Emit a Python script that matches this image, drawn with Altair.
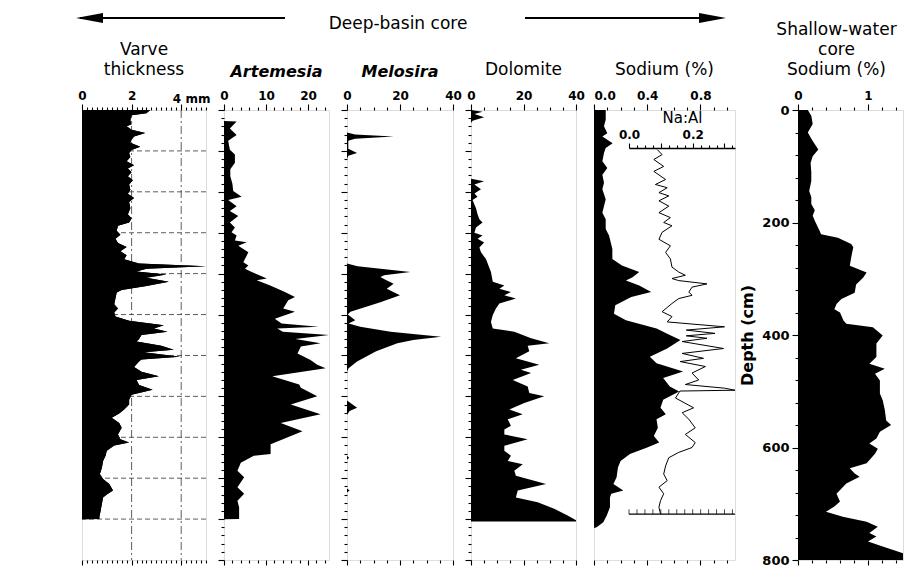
import altair as alt
import pandas as pd

FONT = "DejaVu Sans"

# ---------------- data ----------------
VARVE_KY = [0.0, 0.08, 0.13, 0.25, 0.35, 0.40, 0.48, 0.56, 0.65, 0.73, 0.80, 0.90, 0.98, 1.05, 1.15, 1.25,
            1.35, 1.43, 1.52, 1.62, 1.72, 1.82, 1.95, 2.05, 2.15, 2.25, 2.40, 2.55, 2.65, 2.75, 2.83, 2.95,
            3.05, 3.15, 3.25, 3.35, 3.45, 3.55, 3.65, 3.75, 3.82, 3.88, 3.95, 4.02, 4.10, 4.20, 4.30, 4.40,
            4.46, 4.60, 4.75, 4.85, 4.95, 5.05, 5.15, 5.26, 5.34, 5.42, 5.50, 5.60, 5.66, 5.76, 5.86, 5.92,
            6.03, 6.10, 6.15, 6.28, 6.40, 6.51, 6.60, 6.72, 6.84, 6.96, 7.08, 7.20, 7.32, 7.42, 7.52, 7.65,
            7.77, 7.93, 8.05, 8.13, 8.20, 8.33, 8.45, 8.58, 8.75, 8.90, 9.02, 9.14, 9.30, 9.40, 9.47, 9.63,
            9.80, 9.95, 10.0, 10.001]
VARVE_MM = [2.75, 2.6, 2.0, 1.95, 2.0, 1.8, 2.0, 2.55, 2.1, 2.0, 1.95, 2.35, 2.0, 1.9, 1.95, 1.8,
            2.1, 1.85, 2.0, 1.85, 2.05, 1.9, 1.95, 1.85, 2.1, 1.9, 1.95, 1.85, 2.0, 1.9, 1.45, 1.4,
            1.55, 1.35, 1.45, 1.8, 1.55, 1.8, 1.7, 2.3, 5.0, 2.6, 2.2, 3.4, 2.6, 3.5, 2.6, 1.6,
            1.4, 1.35, 1.3, 1.45, 1.3, 1.35, 1.9, 3.3, 2.9, 3.45, 2.4, 2.3, 2.2, 3.2, 3.7, 2.5,
            3.95, 2.4, 2.3, 2.1, 2.4, 3.1, 2.2, 2.3, 2.85, 2.0, 1.9, 1.9, 1.7, 1.5, 1.2, 1.5,
            1.6, 1.45, 1.55, 1.9, 1.3, 1.0, 0.95, 0.85, 0.8, 0.72, 0.85, 1.1, 1.25, 1.0, 0.85, 0.8,
            0.75, 0.7, 0.7, 0.0]
VARVE_GRID_KY = [1, 2, 3, 4, 5, 6, 7, 8, 9, 10]
VARVE_GRID_MM = [2, 4]

ART_KY = [0.27, 0.28, 0.45, 0.61, 0.75, 0.97, 1.09, 1.29, 1.45, 1.62, 1.80, 1.98, 2.12, 2.20, 2.35, 2.47,
          2.59, 2.75, 2.87, 2.99, 3.07, 3.19, 3.23, 3.32, 3.48, 3.72, 3.80, 3.88, 3.96, 4.12, 4.16, 4.29,
          4.45, 4.57, 4.65, 4.85, 4.93, 5.10, 5.22, 5.30, 5.34, 5.42, 5.50, 5.60, 5.70, 5.78, 5.95, 6.11,
          6.23, 6.31, 6.51, 6.71, 6.79, 7.00, 7.20, 7.44, 7.65, 7.85, 8.17, 8.41, 8.45, 8.62, 8.82, 8.98,
          9.22, 9.38, 9.55, 9.71, 9.95, 10.0, 10.001]
ART_VAL = [0.0, 3.0, 1.4, 3.0, 1.0, 1.4, 2.6, 2.6, 1.5, 1.5, 2.0, 2.2, 4.2, 1.0, 3.0, 1.4,
           3.4, 1.4, 2.6, 1.8, 3.0, 2.6, 5.4, 3.4, 5.8, 4.6, 5.8, 5.0, 6.6, 10.2, 7.8, 11.0,
           14.5, 16.9, 15.3, 14.1, 16.9, 12.1, 13.7, 22.5, 12.7, 14.0, 25.0, 17.0, 23.0, 18.3, 17.5, 20.6,
           22.2, 24.2, 11.5, 17.9, 18.3, 22.2, 15.9, 23.0, 13.5, 18.7, 11.1, 11.1, 7.1, 4.0, 3.2, 4.8,
           3.2, 4.8, 3.2, 3.6, 3.6, 3.6, 0.0]

MEL_KY = [0.0, 0.55, 0.60, 0.65, 0.70, 0.75, 0.95, 1.05, 1.12, 1.20, 3.75, 3.82, 3.96, 4.04, 4.08, 4.15,
          4.25, 4.37, 4.53, 4.70, 4.93, 5.00, 5.14, 5.22, 5.30, 5.42, 5.54, 5.62, 5.70, 5.90, 6.15, 6.31,
          6.40, 7.10, 7.28, 7.36, 7.45, 8.45, 8.50, 8.55, 9.25, 9.30, 9.35, 10.0]
MEL_VAL = [0.0, 0.0, 3.0, 17.6, 3.0, 0.5, 0.5, 3.8, 0.5, 0.0, 0.0, 4.0, 23.9, 14.0, 12.6, 14.5,
           17.6, 15.0, 20.0, 12.6, 1.3, 0.3, 3.1, 0.6, 5.0, 16.4, 35.5, 25.0, 19.0, 11.0, 3.8, 0.6,
           0.0, 0.0, 3.8, 1.0, 0.0, 0.0, 0.8, 0.0, 0.0, 1.0, 0.0, 0.0]

DOL_KY = [0.0, 0.04, 0.10, 0.18, 0.26, 0.32, 1.68, 1.74, 1.82, 1.94, 2.04, 2.12, 2.20, 2.40, 2.55, 2.67,
          2.75, 2.87, 3.00, 3.07, 3.15, 3.24, 3.36, 3.48, 3.64, 3.96, 4.20, 4.29, 4.37, 4.45, 4.53, 4.61,
          4.73, 4.85, 5.01, 5.18, 5.34, 5.42, 5.50, 5.58, 5.70, 5.76, 5.90, 6.07, 6.23, 6.35, 6.43, 6.60,
          6.76, 6.92, 7.00, 7.16, 7.32, 7.44, 7.56, 7.72, 7.81, 7.93, 8.05, 8.21, 8.33, 8.45, 8.58, 8.66,
          8.82, 8.94, 9.14, 9.30, 9.47, 9.59, 9.75, 9.91, 10.03, 10.06, 10.061]
DOL_VAL = [0.0, 4.4, 1.3, 5.0, 0.6, 0.0, 0.0, 5.0, 1.3, 3.8, 1.3, 2.5, 0.6, 1.9, 2.5, 3.2,
           4.4, 1.9, 1.3, 4.4, 2.5, 5.0, 3.2, 3.8, 5.7, 7.6, 8.3, 12.7, 10.8, 15.2, 12.7, 17.1,
           10.8, 9.5, 8.3, 7.6, 8.3, 16.5, 19.7, 22.9, 29.8, 21.6, 22.2, 17.1, 26.0, 19.0, 22.9, 15.9,
           21.6, 22.2, 27.9, 20.3, 14.6, 19.7, 14.0, 15.2, 12.7, 12.7, 21.6, 12.7, 12.7, 15.2, 14.0, 19.7,
           16.5, 17.1, 28.6, 17.8, 17.1, 25.4, 31.7, 36.8, 40.0, 40.0, 0.0]

NA_KY = [0.0, 0.24, 0.40, 0.57, 0.65, 0.81, 0.93, 1.05, 1.25, 1.42, 1.58, 1.78, 1.94, 2.18, 2.51, 2.67,
         2.91, 3.07, 3.24, 3.40, 3.64, 3.80, 3.96, 4.09, 4.17, 4.29, 4.45, 4.57, 4.77, 4.98, 5.14, 5.34,
         5.50, 5.62, 5.83, 6.03, 6.19, 6.39, 6.55, 6.76, 6.88, 7.08, 7.28, 7.44, 7.56, 7.77, 7.97, 8.13,
         8.25, 8.41, 8.58, 8.74, 8.98, 9.14, 9.30, 9.38, 9.47, 9.71, 9.91, 10.08, 10.20, 10.22]
NA_PCT = [0.088, 0.088, 0.075, 0.10, 0.063, 0.14, 0.088, 0.075, 0.063, 0.10, 0.063, 0.075, 0.063, 0.088, 0.063, 0.088,
          0.088, 0.113, 0.126, 0.138, 0.138, 0.21, 0.34, 0.29, 0.24, 0.34, 0.43, 0.28, 0.16, 0.15, 0.24, 0.47,
          0.57, 0.65, 0.55, 0.42, 0.47, 0.67, 0.52, 0.57, 0.64, 0.52, 0.50, 0.54, 0.47, 0.48, 0.45, 0.49,
          0.40, 0.27, 0.20, 0.18, 0.17, 0.146, 0.22, 0.13, 0.12, 0.12, 0.096, 0.07, 0.02, 0.0]

NAAL_KY = [0.97, 1.09, 1.21, 1.38, 1.50, 1.70, 1.82, 1.90, 2.02, 2.10, 2.22, 2.35, 2.51, 2.63, 2.75, 2.83,
           2.99, 3.16, 3.32, 3.48, 3.64, 3.84, 3.96, 4.04, 4.12, 4.17, 4.25, 4.33, 4.45, 4.53, 4.61, 4.73,
           4.93, 5.05, 5.18, 5.30, 5.38, 5.46, 5.52, 5.58, 5.66, 5.83, 5.95, 6.07, 6.15, 6.27, 6.43, 6.60,
           6.71, 6.80, 6.85, 6.87, 7.04, 7.28, 7.40, 7.56, 7.77, 7.93, 8.13, 8.25, 8.37, 8.50, 8.70, 8.90,
           9.06, 9.22, 9.38, 9.55, 9.71, 9.87]
NAAL_R = [0.089, 0.104, 0.078, 0.109, 0.078, 0.115, 0.083, 0.120, 0.094, 0.125, 0.094, 0.125, 0.094, 0.130, 0.109, 0.135,
          0.104, 0.094, 0.130, 0.115, 0.130, 0.135, 0.156, 0.177, 0.135, 0.156, 0.245, 0.198, 0.188, 0.198, 0.156, 0.135,
          0.104, 0.135, 0.120, 0.300, 0.180, 0.270, 0.180, 0.245, 0.167, 0.297, 0.167, 0.234, 0.161, 0.240, 0.198, 0.219,
          0.177, 0.300, 0.333, 0.160, 0.146, 0.203, 0.167, 0.188, 0.208, 0.177, 0.208, 0.198, 0.156, 0.125, 0.115, 0.109,
          0.120, 0.094, 0.109, 0.099, 0.094, 0.099]
NAAL_FRAME_LO = [0.0]
NAAL_FRAME_HI = [0.333]
NAAL_FRAME_KY = [9.88]

SH_DEPTH = [0, 10, 25, 40, 55, 70, 82, 94, 110, 126, 144, 155, 167, 178, 188, 197,
            215, 221, 227, 238, 244, 262, 277, 289, 298, 310, 325, 336, 345, 354, 360, 374,
            380, 386, 401, 415, 439, 451, 460, 469, 481, 504, 516, 533, 552, 560, 572, 584,
            593, 602, 611, 628, 637, 646, 652, 664, 682, 696, 705, 714, 723, 732, 741, 752,
            758, 767, 776, 788, 800]
SH_PCT = [0.14, 0.19, 0.21, 0.14, 0.21, 0.29, 0.21, 0.18, 0.19, 0.19, 0.16, 0.19, 0.19, 0.24, 0.21, 0.24,
          0.31, 0.33, 0.57, 0.76, 0.79, 0.76, 0.74, 0.98, 0.93, 0.83, 0.81, 0.62, 0.55, 0.52, 0.60, 0.65,
          0.69, 1.07, 1.21, 1.12, 1.12, 1.02, 1.24, 1.10, 1.17, 1.17, 1.21, 1.24, 1.26, 1.33, 1.17, 1.12,
          1.02, 1.14, 1.10, 0.98, 0.74, 0.81, 0.88, 0.69, 0.55, 0.60, 0.52, 0.40, 0.64, 0.98, 1.14, 1.02,
          1.12, 1.00, 1.21, 1.50, 1.50]

# ---------------- helpers ----------------
H = 450


def frange(start, stop, step, nd=3):
    n = int(round((stop - start) / step))
    return [round(start + i * step, nd) for i in range(n + 1)]


def mult(step):
    return f"abs(datum.value/{step} - round(datum.value/{step})) < 0.001"


def top_axis(values, major_step, fmt, label_expr=None, **kw):
    test = mult(major_step)
    opts = dict(labelFlush=False)
    opts.update(kw)
    return alt.Axis(orient="top", values=values, title=None, format=fmt,
                    labelExpr=label_expr or f"{test} ? datum.label : ''",
                    tickSize={"expr": f"{test} ? 6 : 3"},
                    domain=False, grid=False, labelFont=FONT, labelFontSize=12,
                    labelFontWeight="bold", labelColor="black", tickColor="black",
                    tickWidth=1.1, labelPadding=2, labelOverlap=False, **opts)


def bottom_axis(values, major_step):
    test = mult(major_step)
    return alt.Axis(orient="bottom", values=values, title=None, labels=False,
                    tickSize={"expr": f"{test} ? 5 : 3"}, domain=False, grid=False,
                    tickColor="black", tickWidth=1.1)


KY_TICKS = frange(0, 11, 0.2, 1)


def deep_yaxis(first=False):
    common = dict(values=KY_TICKS, orient="left", domain=False, grid=False, tickColor="black",
                  tickWidth=1.1, tickSize={"expr": f"{mult(1)} ? 6 : 3"})
    if first:
        return alt.Axis(**common, title="Varve years B.P. x 10³",
                        labelExpr=f"{mult(2)} ? datum.label : ''",
                        format=".0f", labelFont=FONT, labelFontSize=18, labelFontWeight="bold",
                        labelColor="black", labelPadding=5, labelOverlap=False, labelFlush=False,
                        titleFont=FONT, titleFontSize=16, titleFontWeight="bold", titleColor="black",
                        titlePadding=9)
    return alt.Axis(**common, title=None, labels=False)


YSCALE = alt.Scale(domain=[0, 11], reverse=True, nice=False, zero=False)


def ptitle(text, italic=False, **kw):
    return alt.TitleParams(text=text, font=FONT, fontSize=16 if italic else 17,
                           fontWeight="bold" if italic else "normal",
                           fontStyle="italic" if italic else "normal",
                           anchor="middle", baseline="bottom", offset=-7, lineHeight=20,
                           color="black", **kw)


def area_layer(ky, vals, dom, axis, first=False, with_axes=True):
    df = pd.DataFrame({"ky": ky, "v": vals})
    return alt.Chart(df).mark_area(color="black", orient="horizontal", interpolate="linear").encode(
        x=alt.X("v:Q", scale=alt.Scale(domain=dom, nice=False, zero=True), axis=axis if with_axes else None),
        y=alt.Y("ky:Q", scale=YSCALE, axis=deep_yaxis(first) if with_axes else None),
    )


def bottom_layer(dom, values, major):
    df = pd.DataFrame({"b": [dom[0]]})
    return alt.Chart(df).mark_point(opacity=0).encode(
        x=alt.X("b:Q", scale=alt.Scale(domain=dom, nice=False, zero=True), axis=bottom_axis(values, major))
    )


one = pd.DataFrame({"a": [0]})

# narrow blank first column, so the varve panel (with its labelled y axis) is not the edge column
lead = alt.Chart(one).mark_point(opacity=0).encode(x=alt.value(0), y=alt.value(0)).properties(
    width=1, height=H, view=alt.ViewBackground(strokeOpacity=0))

# ---------------- Varve thickness panel ----------------
varve_top = top_axis(frange(0, 5, 0.2, 1), 2, ".0f",
                     label_expr=f"datum.value == 4.4 ? '4 mm' : ({mult(2)} && datum.value != 4 ? datum.label : '')")
grid_h = alt.Chart(pd.DataFrame({"gk": VARVE_GRID_KY})).mark_rule(
    color="#333", strokeWidth=0.8, strokeDash=[5, 3]).encode(y=alt.Y("gk:Q", scale=YSCALE, axis=None))
grid_v = alt.Chart(pd.DataFrame({"gm": VARVE_GRID_MM})).mark_rule(
    color="#333", strokeWidth=0.8, strokeDash=[8, 3, 2, 3]).encode(
    x=alt.X("gm:Q", scale=alt.Scale(domain=[0, 5], nice=False), axis=None))

p_varve = alt.layer(
    area_layer(VARVE_KY, VARVE_MM, [0, 5], varve_top, first=True),
    grid_h, grid_v,
    area_layer(VARVE_KY, VARVE_MM, [0, 5], None, with_axes=False),
    bottom_layer([0, 5], frange(0, 5, 0.2, 1), 2),
).resolve_axis(x="independent").properties(width=124, height=H, title=ptitle(["Varve", "thickness"]))

p_art = alt.layer(
    area_layer(ART_KY, ART_VAL, [0, 25], top_axis(frange(0, 24, 2), 10, "d")),
    bottom_layer([0, 25], frange(0, 24, 2), 10),
).resolve_axis(x="independent").properties(width=105, height=H, title=ptitle("Artemesia", italic=True))

p_mel = alt.layer(
    area_layer(MEL_KY, MEL_VAL, [0, 40], top_axis(frange(0, 40, 5), 20, "d")),
    bottom_layer([0, 40], frange(0, 40, 5), 20),
).resolve_axis(x="independent").properties(width=106, height=H, title=ptitle("Melosira", italic=True))

p_dol = alt.layer(
    area_layer(DOL_KY, DOL_VAL, [0, 40], top_axis(frange(0, 40, 5), 20, "d")),
    bottom_layer([0, 40], frange(0, 40, 5), 20),
).resolve_axis(x="independent").properties(width=105, height=H, title=ptitle("Dolomite"))

# ---------------- Sodium deep core with Na:Al inset ----------------
NAAL_SCALE = alt.Scale(domain=[0, 0.333], range=[35, 141], nice=False, zero=False)
naal_vals = frange(0, 0.325, 0.025)
naal_axis = alt.Axis(orient="top", offset=-38, values=naal_vals, title="Na:Al", format=".1f",
                     labelExpr=f"{mult(0.2)} ? datum.label : ''",
                     tickSize={"expr": f"{mult(0.1)} ? 5 : 3"},
                     domain=True, domainColor="black", domainWidth=1.3, grid=False,
                     labelFont=FONT, labelFontSize=12, labelFontWeight="bold", labelColor="black",
                     tickColor="black", tickWidth=1.1, labelPadding=2, labelFlush=False, labelOverlap=False,
                     titleFont=FONT, titleFontSize=15, titleFontWeight="normal", titleColor="black",
                     titlePadding=3)
naal_df = pd.DataFrame({"nk": NAAL_KY, "r": NAAL_R})
naal_line = alt.Chart(naal_df).mark_line(color="black", strokeWidth=1).encode(
    x=alt.X("r:Q", scale=NAAL_SCALE, axis=naal_axis),
    y=alt.Y("nk:Q", scale=YSCALE, axis=None),
    order=alt.Order("nk:Q"),
)
frame_df = pd.DataFrame({"lo": NAAL_FRAME_LO, "hi": NAAL_FRAME_HI, "fk": NAAL_FRAME_KY})
naal_frame = alt.Chart(frame_df).mark_rule(color="black", strokeWidth=1.3).encode(
    x=alt.X("lo:Q", scale=NAAL_SCALE, axis=None), x2="hi:Q",
    y=alt.Y("fk:Q", scale=YSCALE, axis=None))
tick_df = pd.DataFrame({"tv": naal_vals, "tk": [NAAL_FRAME_KY[0]] * len(naal_vals)})
naal_ticks = alt.Chart(tick_df).mark_tick(color="black", orient="vertical", size=5, thickness=1,
                                          yOffset=-2.5).encode(
    x=alt.X("tv:Q", scale=NAAL_SCALE, axis=None),
    y=alt.Y("tk:Q", scale=YSCALE, axis=None))

p_na = alt.layer(
    area_layer(NA_KY, NA_PCT, [0, 1.06], top_axis(frange(0, 1.0, 0.1, 1), 0.4, ".1f", labelFlush=True)),
    bottom_layer([0, 1.06], frange(0, 1.0, 0.1, 1), 0.4),
    naal_line, naal_frame, naal_ticks,
).resolve_scale(x="independent").resolve_axis(x="independent").properties(
    width=141, height=H, title=ptitle("Sodium (%)"))

# ---------------- spacer carrying the "Deep-basin core" header ----------------
hdr_text = alt.Chart(one).mark_text(font=FONT, fontSize=17, color="black", baseline="middle",
                                    align="center").encode(
    x=alt.value(-355), y=alt.value(-86), text=alt.value("Deep-basin core"))
hdr_l = alt.Chart(one).mark_rule(color="black", strokeWidth=2).encode(
    x=alt.value(-673), x2=alt.value(-468), y=alt.value(-92))
hdr_r = alt.Chart(one).mark_rule(color="black", strokeWidth=2).encode(
    x=alt.value(-228), x2=alt.value(-41), y=alt.value(-92))
head_l = alt.Chart(one).mark_point(shape="M-1,0L1,-0.37L1,0.37Z", filled=True, size=729, color="black",
                                   opacity=1, strokeWidth=0).encode(x=alt.value(-663.5), y=alt.value(-92))
head_r = alt.Chart(one).mark_point(shape="M1,0L-1,-0.37L-1,0.37Z", filled=True, size=729, color="black",
                                   opacity=1, strokeWidth=0).encode(x=alt.value(-40.5), y=alt.value(-92))
spacer = alt.layer(hdr_l, hdr_r, head_l, head_r, hdr_text).properties(
    width=27, height=H, view=alt.ViewBackground(strokeOpacity=0))

# ---------------- Shallow-water core ----------------
SH_YSCALE = alt.Scale(domain=[0, 800], reverse=True, nice=False, zero=False)
sh_yaxis = alt.Axis(orient="left", values=frange(0, 800, 40, 0), title="Depth (cm)", format="d",
                    labelExpr=f"{mult(200)} ? datum.label : ''",
                    tickSize={"expr": f"{mult(200)} ? 6 : 3"}, domain=False, grid=False,
                    tickColor="black", tickWidth=1.1, labelFont=FONT, labelFontSize=13,
                    labelFontWeight="bold", labelColor="black", labelPadding=3, labelOverlap=False,
                    labelFlush=False, titleFont=FONT, titleFontSize=16, titleFontWeight="bold",
                    titleColor="black", titlePadding=6)
sh_df = pd.DataFrame({"d": SH_DEPTH, "s": SH_PCT})
sh_area = alt.Chart(sh_df).mark_area(color="black", orient="horizontal", interpolate="linear").encode(
    x=alt.X("s:Q", scale=alt.Scale(domain=[0, 1.5], nice=False, zero=True),
            axis=top_axis(frange(0, 1.4, 0.2, 1), 1, ".0f")),
    y=alt.Y("d:Q", scale=SH_YSCALE, axis=sh_yaxis),
)
p_sh = alt.layer(
    sh_area,
    bottom_layer([0, 1.5], frange(0, 1.4, 0.2, 1), 1),
).resolve_axis(x="independent").properties(
    width=105, height=H, title=ptitle(["Shallow-water", "core", "Sodium (%)"], dx=-14))

chart = alt.hconcat(lead, p_varve, p_art, p_mel, p_dol, p_na, spacer, p_sh,
                    spacing=18, bounds="flush").properties(
    padding={"left": 52, "top": 5, "right": 0, "bottom": 0}
).configure_view(stroke="black", strokeWidth=1.5).configure(background="white")

chart.save("out.html", embed_options={"renderer": "svg", "actions": False})
